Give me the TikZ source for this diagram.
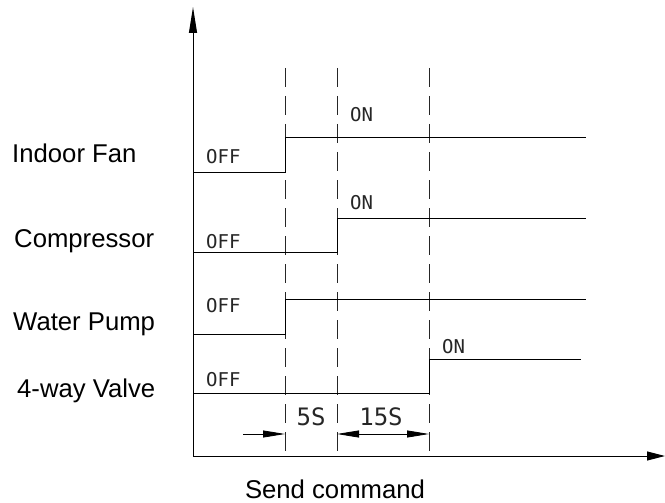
\documentclass[tikz,border=0pt]{standalone}
\usepackage{fontspec}
\setmainfont{Liberation Sans}
\newfontfamily\cadfont{DejaVu Sans Mono}
\usetikzlibrary{arrows.meta}

\begin{document}
\begin{tikzpicture}[x=1pt, y=-1pt,
    axis/.style={line width=1pt, draw=black},
    signal/.style={line width=0.9pt, draw=black},
    gridline/.style={line width=0.8pt, draw=black!85, dash pattern=on 19pt off 9pt},
    statelbl/.style={anchor=west, inner sep=0pt, text=black!85, font=\cadfont\fontsize{19}{19}\selectfont},
    rowlbl/.style={anchor=base west, inner sep=0pt, font=\fontsize{25.7}{30}\selectfont},
    dimlbl/.style={anchor=base, inner sep=0pt, text=black!85, font=\cadfont\fontsize{24}{24}\selectfont},
    dimtip/.style={line width=0.8pt, -{Triangle[length=22pt, width=7pt]}}]
    \useasboundingbox (0,0) rectangle (665,503);

    % Axes
    \coordinate (origin) at (193,456);
    \coordinate (ytop) at (193,7);
    \coordinate (xend) at (665,456);
    \draw[axis, -{Triangle[length=26pt, width=8pt]}] (origin) -- (ytop);
    \draw[axis, -{Triangle[length=18pt, width=9pt]}] (origin) -- (xend);

    % Time marks (dashed)
    \coordinate (t1top) at (285,68);  \coordinate (t1bot) at (285,456);
    \coordinate (t2top) at (337,68);  \coordinate (t2bot) at (337,456);
    \coordinate (t3top) at (429,68);  \coordinate (t3bot) at (429,456);
    \draw[gridline] (t1top) -- (t1bot);
    \draw[gridline] (t2top) -- (t2bot);
    \draw[gridline] (t3top) -- (t3bot);

    % Indoor Fan
    \node[rowlbl] (fan) at (12,163) {Indoor Fan};
    \draw[signal] (193,172) -- (285,172) -- (285,137) -- (586,137);
    \node[statelbl] (fanoff) at (206,157) {OFF};
    \node[statelbl] (fanon) at (350,115) {ON};

    % Compressor
    \node[rowlbl] (comp) at (14,247) {Compressor};
    \draw[signal] (193,252) -- (337,252) -- (337,218) -- (586,218);
    \node[statelbl] (compoff) at (206,242) {OFF};
    \node[statelbl] (compon) at (350,203) {ON};

    % Water Pump
    \node[rowlbl] (pump) at (13,330) {Water Pump};
    \draw[signal] (193,334) -- (285,334) -- (285,299) -- (586,299);
    \node[statelbl] (pumpoff) at (206,306) {OFF};

    % 4-way Valve
    \node[rowlbl] (valve) at (17,397) {4-way Valve};
    \draw[signal] (193,393) -- (429,393) -- (429,359) -- (581,359);
    \node[statelbl] (valveoff) at (206,380) {OFF};
    \node[statelbl] (valveon) at (442,347) {ON};

    % Delays
    \coordinate (d0) at (243,434);
    \coordinate (d1) at (285,434);
    \coordinate (d2) at (337,434);
    \coordinate (d3) at (429,434);
    \draw[dimtip] (d0) -- (d1);
    \draw[dimtip, {Triangle[length=22pt, width=7pt]}-{Triangle[length=22pt, width=7pt]}] (d2) -- (d3);
    \node[dimlbl] (five) at (311,425) {5S};
    \node[dimlbl] (fifteen) at (381,425) {15S};

    \node[font=\fontsize{25.7}{30}\selectfont, anchor=base, inner sep=0pt] (send) at (335,498) {Send command};
\end{tikzpicture}
\end{document}
